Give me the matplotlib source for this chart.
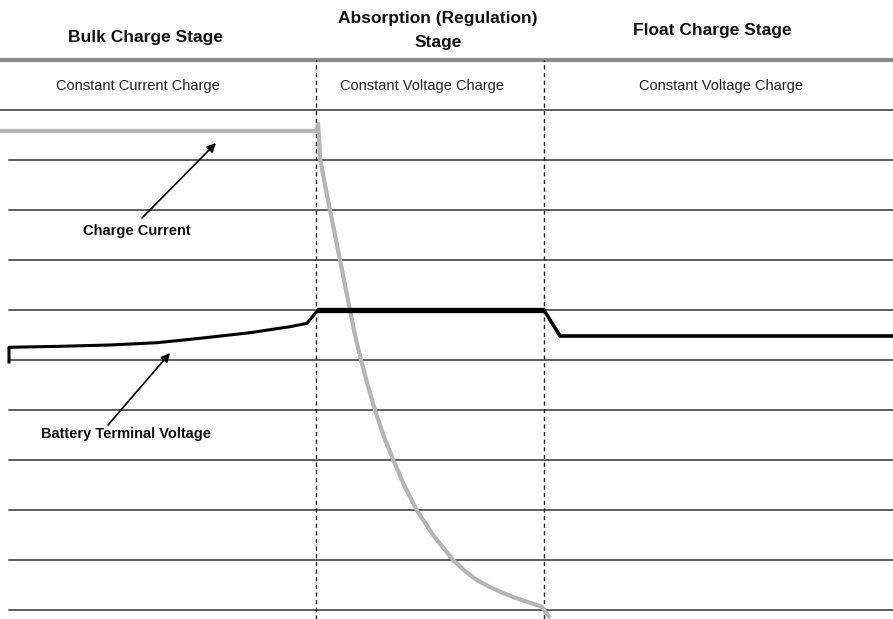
import matplotlib
matplotlib.use("Agg")
import matplotlib.pyplot as plt

# Stage headings and sub-headings
stage_titles = ["Bulk Charge Stage", "Absorption (Regulation)\nStage", "Float Charge Stage"]
stage_title_x = [145, 438, 712]
stage_title_y = [11.45, 11.6, 11.58]
stage_modes = ["Constant Current Charge", "Constant Voltage Charge", "Constant Voltage Charge"]
stage_mode_x = [138, 422, 721]
stage_bounds = [316, 544]

# Horizontal grid levels
grid_levels = [0, 1, 2, 3, 4, 5, 6, 7, 8, 9, 10]
header_level = 11.0

# Charge current (time, level)
current_t = [0, 316, 318, 319.5, 320, 325, 330, 335, 340, 345, 350, 355, 361,
             367.7, 375, 383.3, 393.3, 404, 416.7, 433, 453, 465, 476.7, 490,
             503, 515, 526.7, 541.7, 550]
current_v = [9.58, 9.58, 9.72, 9.3, 9.04, 8.5, 8.0, 7.5, 7.0, 6.5, 6.0, 5.5, 5.0,
             4.5, 4.0, 3.5, 3.0, 2.5, 2.0, 1.5, 1.0, 0.78, 0.6, 0.46,
             0.34, 0.245, 0.166, 0.066, -0.16]

# Battery terminal voltage (time, level)
bulk_t = [9, 9, 60, 110, 157, 200, 250, 290, 307, 318]
bulk_v = [4.96, 5.254, 5.274, 5.30, 5.346, 5.434, 5.546, 5.666, 5.734, 6.0]
absorb_t = [317, 544]
absorb_v = [6.0, 6.0]
float_t = [544, 560, 893]
float_v = [6.0, 5.48, 5.48]

# Callouts: label text, label position, arrow tail, arrow head
callout_labels = ["Charge Current", "Battery Terminal Voltage"]
callout_label_xy = [(137, 7.58), (126, 3.52)]
callout_tail_xy = [(142, 7.84), (108, 3.7)]
callout_head_xy = [(216, 9.34), (170, 5.14)]

fig = plt.figure(figsize=(8.93, 6.19), dpi=100)
ax = fig.add_axes([0, 0, 1, 1])
ax.set_xlim(0, 893)
ax.set_ylim(-0.18, 12.2)
ax.axis("off")

font = ["Liberation Sans", "DejaVu Sans"]

# grid lines
for lv in grid_levels:
    x0 = 0 if lv == 10 else 9
    ax.plot([x0, 893], [lv, lv], color="#333333", lw=1.1, zorder=1)
ax.plot([0, 893], [header_level, header_level], color="#8c8c8c", lw=3, zorder=1)

# stage boundaries
for xb in stage_bounds:
    ax.plot([xb, xb], [-0.18, header_level], color="#222222", lw=1.0,
            linestyle=(0, (3, 2.5)), zorder=2)

# headings
for x, y, t in zip(stage_title_x, stage_title_y, stage_titles):
    ax.text(x, y, t, ha="center", va="center", fontsize=12.5,
            fontweight="bold", family=font, color="#111111", linespacing=1.75)
for x, t in zip(stage_mode_x, stage_modes):
    ax.text(x, 10.48, t, ha="center", va="center", fontsize=10.5,
            family=font, color="#222222")

# curves
ax.plot(current_t, current_v, color="#b5b5b5", lw=3, solid_capstyle="butt",
        solid_joinstyle="round", zorder=3)
ax.plot(bulk_t, bulk_v, color="black", lw=2.2, zorder=4, solid_joinstyle="round")
ax.plot(absorb_t, absorb_v, color="black", lw=3.8, zorder=4, solid_capstyle="butt")
ax.plot(float_t, float_v, color="black", lw=2.6, zorder=4)

# callouts
for label, lxy, txy, hxy in zip(callout_labels, callout_label_xy,
                                callout_tail_xy, callout_head_xy):
    ax.text(lxy[0], lxy[1], label, ha="center", va="center", fontsize=10.5,
            fontweight="bold", family=font, color="#111111")
    ax.annotate("", xy=hxy, xytext=txy,
                arrowprops=dict(arrowstyle="-|>", color="black", lw=1.2,
                                mutation_scale=13, shrinkA=0, shrinkB=0))

fig.savefig("out.png", dpi=100)
